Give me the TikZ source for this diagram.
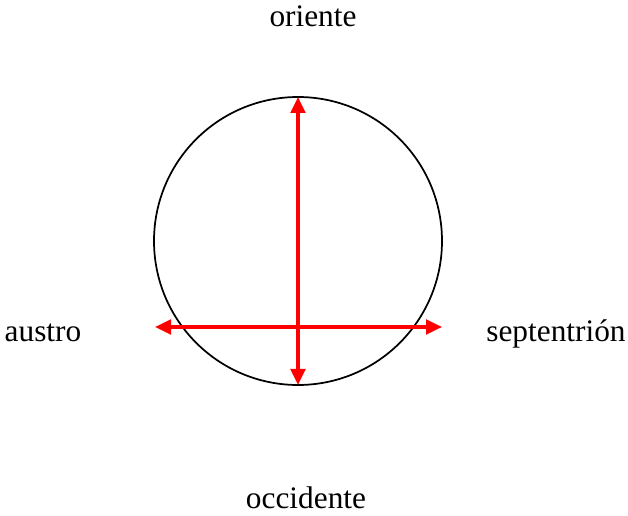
\documentclass[tikz,border=0pt]{standalone}
\usepackage{fontspec}
\setmainfont{Liberation Serif}
\usepackage{xcolor}
\usetikzlibrary{arrows.meta}

\begin{document}
\begin{tikzpicture}[x=0.75pt, y=-0.75pt,
  every node/.style={font=\fontsize{23.5}{28}\selectfont, anchor=base},
  axis/.style={draw=red, line width=2.4pt, {Triangle[length=12pt,width=11pt]}-{Triangle[length=12pt,width=11pt]}}]
  \useasboundingbox (0,0) rectangle (628,516);
  \node[draw, circle, line width=1.3pt, minimum size=216pt, inner sep=0pt, anchor=center] (globe) at (298,241) {};
  \node (oriente) at (313,27) {oriente};
  \node (occidente) at (306,508) {occidente};
  \node (austro) at (43,342) {austro};
  \node (septentrion) at (556,342) {septentrión};
  \coordinate (top) at (298,97);
  \coordinate (bottom) at (298,385);
  \coordinate (left) at (155,327);
  \coordinate (right) at (442,327);
  \draw[axis] (top) -- (bottom);
  \draw[axis] (left) -- (right);
\end{tikzpicture}
\end{document}
